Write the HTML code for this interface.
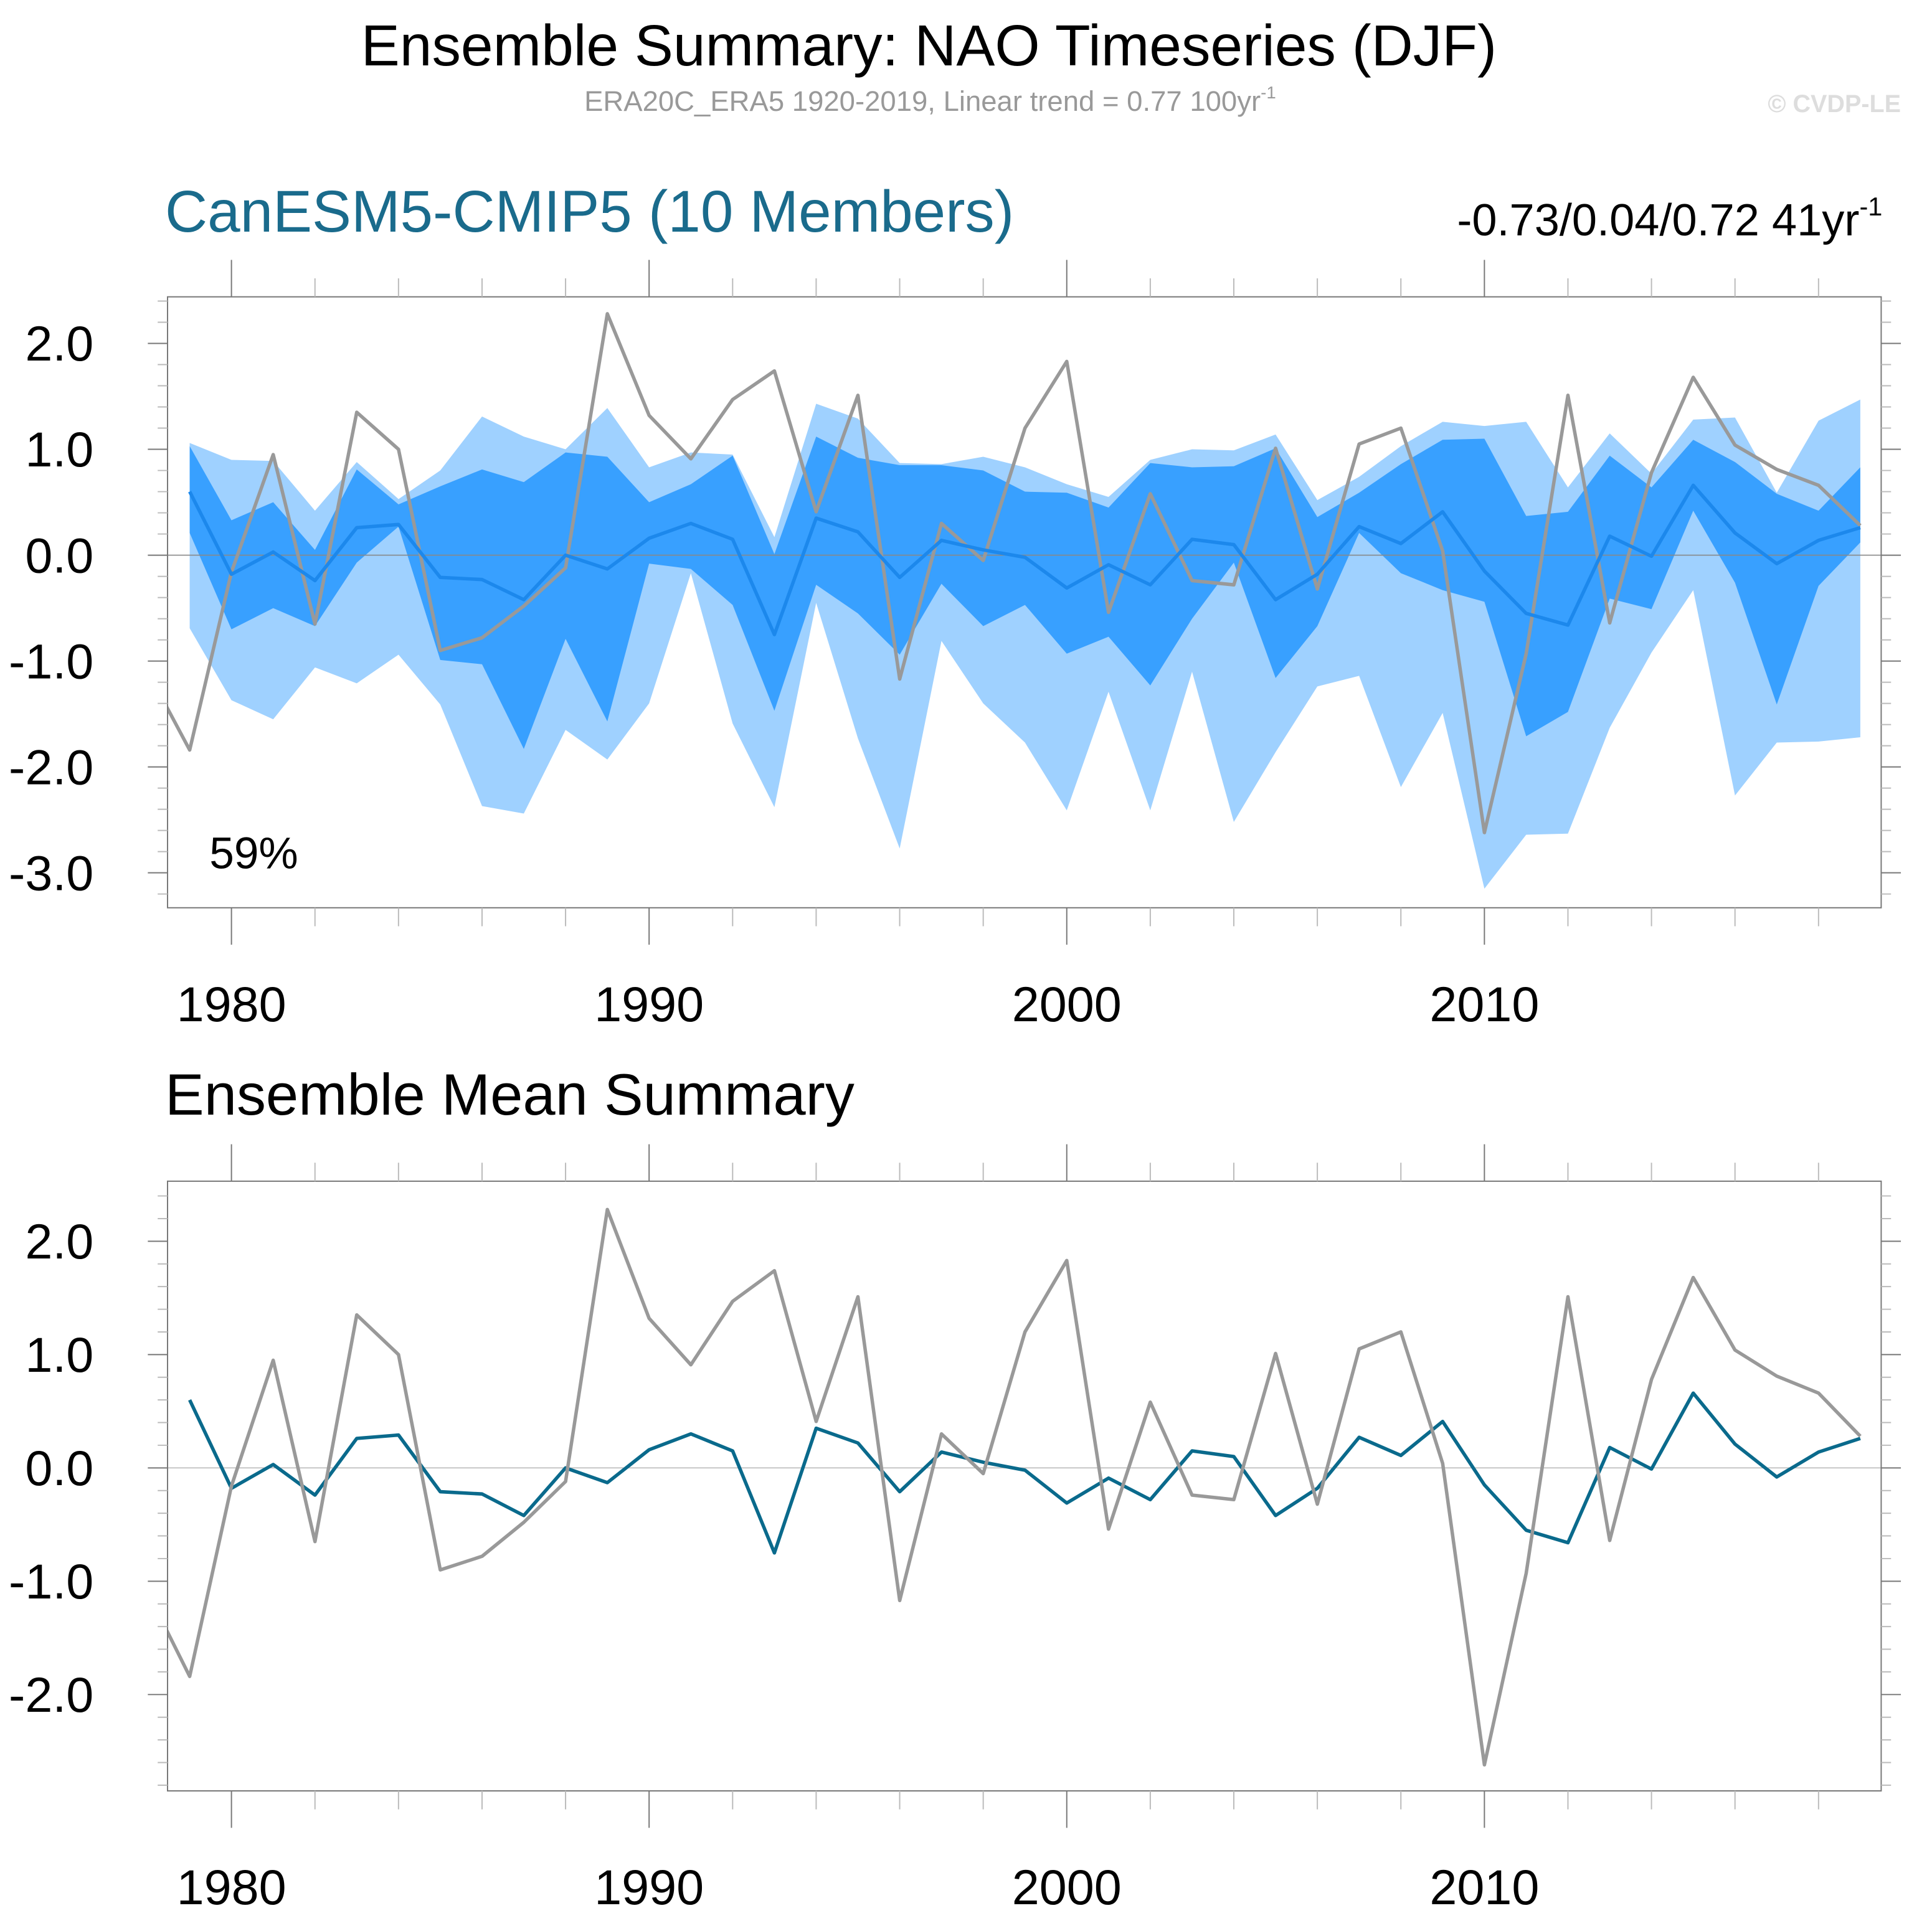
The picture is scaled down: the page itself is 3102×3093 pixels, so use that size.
<!DOCTYPE html>
<html><head><meta charset="utf-8"><style>
html,body{margin:0;padding:0;background:#fff;}
svg{display:block;font-family:"Liberation Sans",sans-serif;}
</style></head><body>
<svg id="chart" width="3102" height="3093" viewBox="0 0 1568.25 1563.7" preserveAspectRatio="none" xmlns="http://www.w3.org/2000/svg">
<text x="754" y="53" font-size="47" text-anchor="middle" fill="#000">Ensemble Summary: NAO Timeseries (DJF)</text>
<text x="755" y="90" font-size="23" text-anchor="middle" fill="#999">ERA20C_ERA5 1920-2019, Linear trend = 0.77 100yr<tspan font-size="14" dy="-10">-1</tspan></text>
<text x="1543" y="91" font-size="20" font-weight="bold" text-anchor="end" fill="#ddd">© CVDP-LE</text>
<text x="134" y="188" font-size="47.7" fill="#1a6b8c">CanESM5-CMIP5 (10 Members)</text>
<text x="1528" y="191" font-size="36.5" text-anchor="end" fill="#000">-0.73/0.04/0.72 41yr<tspan font-size="21" dy="-16">-1</tspan></text>
<text x="134" y="905" font-size="47.5" fill="#000">Ensemble Mean Summary</text>
<g id="p1"></g><g id="p2"></g>
</svg>
<script>
const years=[1978,1979,1980,1981,1982,1983,1984,1985,1986,1987,1988,1989,1990,1991,1992,1993,1994,1995,1996,1997,1998,1999,2000,2001,2002,2003,2004,2005,2006,2007,2008,2009,2010,2011,2012,2013,2014,2015,2016,2017,2018,2019];
const obs=[-1.1,-1.84,-0.16,0.95,-0.65,1.35,1.0,-0.9,-0.78,-0.48,-0.12,2.28,1.32,0.91,1.47,1.74,0.41,1.51,-1.17,0.3,-0.05,1.2,1.83,-0.54,0.58,-0.24,-0.28,1.01,-0.32,1.05,1.2,0.04,-2.62,-0.93,1.51,-0.64,0.78,1.68,1.04,0.81,0.66,0.28];
const ensYears=[1979,1980,1981,1982,1983,1984,1985,1986,1987,1988,1989,1990,1991,1992,1993,1994,1995,1996,1997,1998,1999,2000,2001,2002,2003,2004,2005,2006,2007,2008,2009,2010,2011,2012,2013,2014,2015,2016,2017,2018,2019];
const ensMean=[0.6,-0.18,0.03,-0.24,0.26,0.29,-0.21,-0.23,-0.42,0.0,-0.13,0.16,0.3,0.15,-0.75,0.35,0.22,-0.21,0.14,0.05,-0.02,-0.31,-0.09,-0.28,0.15,0.1,-0.42,-0.18,0.27,0.11,0.41,-0.15,-0.55,-0.66,0.18,-0.01,0.66,0.21,-0.08,0.14,0.26];
const outerMax=[1.06,0.9,0.89,0.42,0.88,0.53,0.8,1.31,1.12,1.0,1.39,0.83,0.97,0.95,0.17,1.43,1.29,0.87,0.86,0.93,0.83,0.67,0.55,0.9,1.0,0.99,1.14,0.52,0.74,1.03,1.26,1.22,1.26,0.64,1.15,0.77,1.28,1.3,0.59,1.27,1.47];
const innerMax=[1.03,0.33,0.5,0.05,0.81,0.48,0.65,0.81,0.69,0.97,0.93,0.5,0.67,0.94,0.01,1.12,0.92,0.85,0.85,0.8,0.6,0.59,0.45,0.87,0.83,0.84,1.01,0.36,0.59,0.86,1.09,1.1,0.37,0.41,0.94,0.64,1.09,0.88,0.58,0.42,0.83];
const innerMin=[0.21,-0.7,-0.5,-0.67,-0.07,0.27,-0.99,-1.03,-1.83,-0.79,-1.57,-0.08,-0.13,-0.47,-1.47,-0.28,-0.55,-0.94,-0.27,-0.67,-0.47,-0.93,-0.77,-1.23,-0.6,-0.07,-1.16,-0.67,0.21,-0.17,-0.33,-0.44,-1.71,-1.48,-0.41,-0.51,0.42,-0.26,-1.41,-0.29,0.12];
const outerMin=[-0.69,-1.37,-1.55,-1.06,-1.21,-0.94,-1.41,-2.37,-2.44,-1.65,-1.93,-1.4,-0.17,-1.59,-2.38,-0.45,-1.73,-2.77,-0.81,-1.4,-1.77,-2.41,-1.29,-2.41,-1.1,-2.52,-1.86,-1.24,-1.14,-2.19,-1.49,-3.15,-2.64,-2.63,-1.63,-0.92,-0.33,-2.27,-1.77,-1.76,-1.72];
const yTicks1=["2.0","1.0","0.0","-1.0","-2.0","-3.0"];
const yTicks2=["2.0","1.0","0.0","-1.0","-2.0"];
const xTicks=["1980","1990","2000","2010"];

const NS="http://www.w3.org/2000/svg";
function mk(parent,tag,attrs){const e=document.createElementNS(NS,tag);for(const k in attrs)e.setAttribute(k,attrs[k]);parent.appendChild(e);return e;}
const X0=136,X1=1527,XMIN=1978.47,XMAX=2019.5;
function xs(y){return X0+(y-XMIN)/(XMAX-XMIN)*(X1-X0);}
function panel(g,top,bot,vmax,vmin,ticks,bands,meanColor,name){
  const ys=v=>top+(vmax-v)/(vmax-vmin)*(bot-top);
  const cid="clip"+name;
  const cp=mk(g,"clipPath",{id:cid});mk(cp,"rect",{x:X0,y:top,width:X1-X0,height:bot-top});
  const body=mk(g,"g",{"clip-path":"url(#"+cid+")"});
  if(bands){
    const poly=(hi,lo,col,nm)=>{let pts=ensYears.map((y,i)=>xs(y)+","+ys(hi[i]));for(let i=ensYears.length-1;i>=0;i--)pts.push(xs(ensYears[i])+","+ys(lo[i]));
      const p=mk(body,"polygon",{points:pts.join(" "),fill:col});
      
      };
    poly(outerMax,outerMin,"#9fd1ff",name+"-outer-range-band");
    poly(innerMax,innerMin,"#38a0ff",name+"-inner-range-band");
  }
  const z=mk(body,"line",{x1:X0,x2:X1,y1:ys(0),y2:ys(0),stroke:bands?"#888":"#bbb","stroke-width":0.8});
  
  
  const mline=(xa,va,col,w,nm)=>{const l=mk(body,"polyline",{points:xa.map((y,i)=>xs(y)+","+ys(va[i])).join(" "),fill:"none",stroke:col,"stroke-width":w,"stroke-linejoin":"round"});
    
    };
  if(bands){mline(years,obs,"#999",2.8,name+"-observed-line");mline(ensYears,ensMean,meanColor,2.8,name+"-ensemble-mean-line");}
  else{mline(ensYears,ensMean,meanColor,2.8,name+"-ensemble-mean-line");mline(years,obs,"#999",2.8,name+"-observed-line");}
  const fr=mk(g,"rect",{x:X0,y:top,width:X1-X0,height:bot-top,fill:"none",stroke:"#777","stroke-width":1});
  
  
  for(let v=Math.ceil(vmin*5)/5;v<=vmax+1e-9;v+=0.2){const vv=Math.round(v*10)/10;const major=Math.abs(vv-Math.round(vv))<1e-6;
    const L=major?16:8;const y=ys(vv);
    mk(g,"line",{x1:X0-L,x2:X0,y1:y,y2:y,stroke:major?"#777":"#bbb","stroke-width":1});
    mk(g,"line",{x1:X1,x2:X1+L,y1:y,y2:y,stroke:major?"#777":"#bbb","stroke-width":1});}
  ticks.forEach(t=>{const tx=mk(g,"text",{x:76,y:ys(parseFloat(t))+14,"font-size":40,"text-anchor":"end",fill:"#000"});tx.textContent=t;
    
    });
  for(let yr=1980;yr<=2018;yr+=2){const major=yr%10===0;const L=major?30:15;const x=xs(yr);
    mk(g,"line",{x1:x,x2:x,y1:top-L,y2:top,stroke:major?"#777":"#bbb","stroke-width":1});
    mk(g,"line",{x1:x,x2:x,y1:bot,y2:bot+L,stroke:major?"#777":"#bbb","stroke-width":1});}
  xTicks.forEach(t=>{const tx=mk(g,"text",{x:xs(parseFloat(t)),y:bot+92,"font-size":40,"text-anchor":"middle",fill:"#000"});tx.textContent=t;
    
    });
}
panel(document.getElementById("p1"),241,737,2.44,-3.33,yTicks1,true,"#1c88ec","panel1");
panel(document.getElementById("p2"),959,1454,2.53,-2.85,yTicks2,false,"#0a6a8c","panel2");
const pct=mk(document.getElementById("p1"),"text",{x:170,y:705,"font-size":36,fill:"#000"});pct.textContent="59%";


</script>
</body></html>
